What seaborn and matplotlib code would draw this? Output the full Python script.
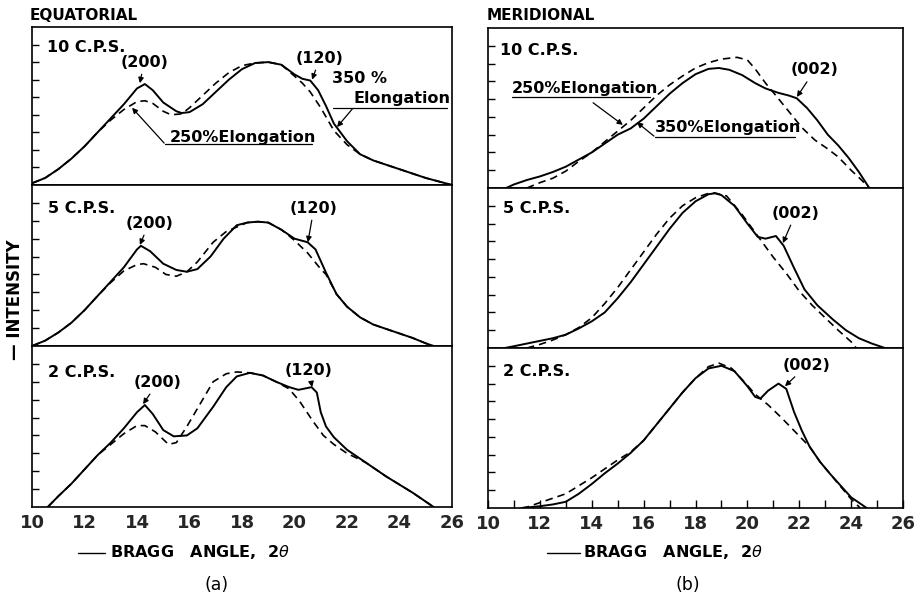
import matplotlib
matplotlib.use("Agg")
import matplotlib.pyplot as plt
from matplotlib.lines import Line2D
import seaborn as sns

sns.set_theme(style="white")
plt.rcParams['font.family'] = ['DejaVu Sans']

# ---------------- data ----------------
# Equatorial, 10 c.p.s.
eq10_x_350 = [10, 10.5, 11, 11.5, 12, 12.5, 13, 13.5, 14, 14.3, 14.6, 15, 15.5, 15.7, 16, 16.5, 17, 17.5, 18,
              18.5, 19, 19.5, 20, 20.3, 20.6, 20.9, 21.2, 21.5, 22, 22.5, 23, 23.5, 24, 24.5, 25, 25.5, 26]
eq10_y_350 = [0.1, 0.4, 0.9, 1.5, 2.2, 3.0, 3.8, 4.6, 5.5, 5.75, 5.4, 4.7, 4.2, 4.1, 4.15, 4.6, 5.3, 6.0, 6.6,
              6.95, 7.0, 6.85, 6.3, 6.05, 5.95, 5.4, 4.5, 3.5, 2.5, 1.75, 1.4, 1.15, 0.9, 0.65, 0.4, 0.2, 0.0]
eq10_x_250 = [10, 10.5, 11, 11.5, 12, 12.5, 13, 13.5, 14, 14.3, 14.6, 15, 15.3, 15.7, 16, 16.5, 17, 17.5, 18,
              18.5, 19, 19.5, 20, 20.3, 20.6, 21, 21.5, 22, 22.5, 23, 23.5, 24, 24.5, 25, 25.5, 26]
eq10_y_250 = [0.1, 0.4, 0.9, 1.5, 2.2, 3.0, 3.7, 4.3, 4.75, 4.8, 4.65, 4.2, 4.0, 4.05, 4.4, 5.1, 5.8, 6.4, 6.8,
              6.95, 7.0, 6.85, 6.2, 5.8, 5.3, 4.4, 3.1, 2.3, 1.75, 1.4, 1.15, 0.9, 0.65, 0.4, 0.2, 0.0]

# Equatorial, 5 c.p.s.
eq5_x_350 = [10, 10.5, 11, 11.5, 12, 12.5, 13, 13.5, 14, 14.15, 14.5, 15, 15.5, 15.9, 16.3, 16.8, 17.3, 17.8,
             18.2, 18.6, 19, 19.5, 20, 20.5, 20.8, 21.2, 21.6, 22, 22.5, 23, 23.5, 24, 24.5, 25, 25.3]
eq5_y_350 = [0.0, 0.3, 0.75, 1.3, 2.0, 2.8, 3.6, 4.4, 5.4, 5.6, 5.3, 4.6, 4.25, 4.15, 4.3, 5.0, 6.0, 6.75,
             6.9, 6.95, 6.9, 6.5, 6.0, 5.8, 5.4, 4.1, 2.9, 2.2, 1.6, 1.2, 0.95, 0.7, 0.45, 0.15, 0.0]
eq5_x_250 = [10, 10.5, 11, 11.5, 12, 12.5, 13, 13.5, 14, 14.25, 14.7, 15.1, 15.5, 15.9, 16.3, 16.9, 17.4, 17.8,
             18.2, 18.6, 19, 19.5, 19.8, 20, 20.5, 21, 21.2, 21.6, 22, 22.5, 23, 23.5, 24, 24.5, 25, 25.3]
eq5_y_250 = [0.0, 0.3, 0.75, 1.3, 2.0, 2.8, 3.55, 4.2, 4.55, 4.6, 4.4, 4.0, 3.9, 4.15, 4.7, 5.8, 6.4, 6.65,
             6.9, 6.95, 6.9, 6.5, 6.15, 5.9, 5.2, 4.3, 4.0, 2.9, 2.2, 1.6, 1.2, 0.95, 0.7, 0.45, 0.15, 0.0]

# Equatorial, 2 c.p.s.
eq2_x_350 = [10.6, 11, 11.5, 12, 12.5, 13, 13.5, 14, 14.3, 14.6, 15, 15.4, 15.9, 16.3, 16.9, 17.4, 17.8, 18.3,
             18.8, 19.3, 19.8, 20.15, 20.65, 20.85, 21.0, 21.2, 21.5, 22, 22.7, 23.5, 24, 24.5, 25, 25.3]
eq2_y_350 = [0.0, 0.6, 1.3, 2.1, 2.9, 3.6, 4.4, 5.3, 5.7, 5.2, 4.3, 3.95, 4.0, 4.4, 5.6, 6.7, 7.3, 7.5,
             7.35, 7.0, 6.7, 6.55, 6.7, 6.4, 5.3, 4.5, 3.9, 3.2, 2.5, 1.7, 1.25, 0.8, 0.3, 0.0]
eq2_x_250 = [10.6, 11, 11.5, 12, 12.5, 13, 13.5, 14, 14.3, 14.7, 15.2, 15.5, 15.9, 16.3, 16.9, 17.4, 17.8, 18.3,
             18.8, 19.3, 19.8, 20.2, 20.7, 21.1, 21.5, 22, 22.7, 23.5, 24, 24.5, 25, 25.3]
eq2_y_250 = [0.0, 0.6, 1.3, 2.1, 2.9, 3.5, 4.1, 4.55, 4.55, 4.2, 3.5, 3.6, 4.5, 5.5, 7.0, 7.45, 7.55, 7.5,
             7.35, 7.0, 6.6, 5.9, 4.8, 4.0, 3.5, 3.0, 2.5, 1.7, 1.25, 0.8, 0.3, 0.0]

# Meridional, 10 c.p.s.
me10_x_350 = [10.7, 11, 11.5, 12, 12.5, 13, 13.5, 14, 14.5, 15, 15.5, 16, 16.5, 17, 17.5, 18, 18.5, 18.9,
              19.3, 19.8, 20.3, 20.7, 21.2, 21.6, 21.9, 22.3, 22.7, 23.1, 23.5, 23.9, 24.3, 24.7]
me10_y_350 = [0.0, 0.2, 0.45, 0.65, 0.9, 1.2, 1.6, 2.0, 2.5, 3.0, 3.35, 3.9, 4.6, 5.3, 5.9, 6.4, 6.7, 6.75,
              6.65, 6.35, 5.9, 5.6, 5.35, 5.2, 5.05, 4.5, 3.8, 3.0, 2.4, 1.7, 0.9, 0.0]
me10_x_250 = [11.5, 12, 12.5, 13, 13.5, 14, 14.5, 15, 15.5, 16, 16.5, 17, 17.5, 18, 18.5, 19, 19.6, 20.0,
              20.3, 20.7, 21.1, 21.6, 22.1, 22.6, 23.1, 23.5, 24.0, 24.4, 24.7]
me10_y_250 = [0.0, 0.3, 0.55, 0.95, 1.5, 2.0, 2.6, 3.2, 3.8, 4.5, 5.2, 5.8, 6.3, 6.75, 7.05, 7.25, 7.35, 7.2,
              6.7, 5.9, 5.2, 4.3, 3.4, 2.7, 2.2, 1.75, 1.0, 0.45, 0.0]

# Meridional, 5 c.p.s.
me5_x_350 = [10.65, 11, 11.5, 12, 12.5, 13, 13.5, 14, 14.5, 15, 15.5, 16, 16.5, 17, 17.5, 18, 18.5, 18.75,
             19, 19.5, 20, 20.4, 20.7, 21.1, 21.4, 21.8, 22.2, 22.7, 23.3, 23.8, 24.3, 24.8, 25.3]
me5_y_350 = [0.0, 0.1, 0.25, 0.4, 0.55, 0.75, 1.1, 1.5, 2.0, 2.8, 3.7, 4.7, 5.7, 6.7, 7.6, 8.25, 8.65, 8.7,
             8.6, 8.0, 7.0, 6.25, 6.15, 6.3, 5.75, 4.5, 3.3, 2.4, 1.6, 1.0, 0.55, 0.25, 0.0]
me5_x_250 = [11.5, 12, 12.5, 13, 13.5, 14, 14.5, 15, 15.5, 16, 16.5, 17, 17.5, 18, 18.5, 18.75, 19.2, 19.8,
             20.4, 21, 21.5, 22, 22.5, 23, 23.5, 24, 24.2]
me5_y_250 = [0.0, 0.2, 0.45, 0.75, 1.15, 1.7, 2.5, 3.4, 4.4, 5.4, 6.4, 7.3, 8.0, 8.45, 8.7, 8.72, 8.55, 7.5,
             6.3, 5.1, 4.2, 3.2, 2.4, 1.7, 1.0, 0.35, 0.0]

# Meridional, 2 c.p.s.
me2_x_350 = [11.3, 12, 12.5, 13, 13.5, 14, 14.5, 15, 15.5, 16, 16.5, 17, 17.5, 18, 18.5, 19, 19.5, 20,
             20.3, 20.5, 20.8, 21.2, 21.5, 21.8, 22.1, 22.4, 22.8, 23.2, 23.6, 24, 24.3, 24.6]
me2_y_350 = [0.0, 0.1, 0.2, 0.35, 0.8, 1.35, 1.95, 2.5, 3.1, 3.8, 4.7, 5.6, 6.5, 7.3, 7.85, 8.0, 7.7, 6.85,
             6.25, 6.15, 6.6, 7.0, 6.7, 5.4, 4.35, 3.45, 2.6, 1.9, 1.25, 0.6, 0.3, 0.0]
me2_x_250 = [11.3, 11.5, 12, 12.5, 13, 13.5, 14, 14.5, 15, 15.5, 16, 16.5, 17, 17.5, 18, 18.5, 18.9, 19.4,
             20, 20.3, 20.8, 21.3, 21.8, 22.4, 22.8, 23.2, 23.6, 24, 24.35]
me2_y_250 = [0.0, 0.05, 0.3, 0.55, 0.8, 1.25, 1.7, 2.2, 2.7, 3.15, 3.8, 4.7, 5.6, 6.5, 7.3, 7.95, 8.15, 7.85,
             6.9, 6.4, 5.8, 5.1, 4.35, 3.45, 2.6, 1.9, 1.2, 0.5, 0.0]

x_tick_labels = ["10", "12", "14", "16", "18", "20", "22", "24", "26"]
panel_labels = ["10 C.P.S.", "5 C.P.S.", "2 C.P.S."]

# ---------------- figure ----------------
W, H = 916, 599
fig = plt.figure(figsize=(W / 100, H / 100), dpi=100)
fig.patch.set_facecolor("white")

FONT = dict(family="DejaVu Sans", weight="bold", color="black")


def px_axes(left, right, top, bottom):
    return fig.add_axes([left / W, 1 - bottom / H, (right - left) / W, (bottom - top) / H])


left_bounds = [(27, 185), (185, 346), (346, 507)]
right_bounds = [(28, 188), (188, 348), (348, 508)]

eq_data = [(eq10_x_350, eq10_y_350, eq10_x_250, eq10_y_250),
           (eq5_x_350, eq5_y_350, eq5_x_250, eq5_y_250),
           (eq2_x_350, eq2_y_350, eq2_x_250, eq2_y_250)]
me_data = [(me10_x_350, me10_y_350, me10_x_250, me10_y_250),
           (me5_x_350, me5_y_350, me5_x_250, me5_y_250),
           (me2_x_350, me2_y_350, me2_x_250, me2_y_250)]

axes_l, axes_r = [], []
for col, (bounds, data, xl, xr) in enumerate([(left_bounds, eq_data, 32, 452),
                                              (right_bounds, me_data, 488, 903)]):
    for i, ((t, b), (xs, ys, xd, yd)) in enumerate(zip(bounds, data)):
        ax = px_axes(xl, xr, t, b)
        sns.lineplot(x=xs, y=ys, ax=ax, color="black", linewidth=1.4, sort=False)
        sns.lineplot(x=xd, y=yd, ax=ax, color="black", linewidth=1.2, sort=False,
                     linestyle=(0, (4.5, 3)))
        ax.set_xlim(10, 26)
        ax.set_ylim(0, 9)
        ax.set_facecolor("white")
        for s in ax.spines.values():
            s.set_color("black")
            s.set_linewidth(1.2)
        ax.set_yticks(range(1, 9))
        ax.set_yticklabels([])
        ax.tick_params(axis="y", direction="in", length=5, width=1, color="black", left=True)
        ax.set_xticks(range(10, 27, 2))
        if i == 2:
            ax.set_xticklabels(x_tick_labels, fontsize=13, fontweight="bold")
            if col == 1:
                ax.set_xticks(range(11, 26), minor=True)
                ax.tick_params(axis="x", which="both", direction="in", length=6, width=1,
                               color="black", bottom=True, pad=5)
            else:
                ax.tick_params(axis="x", direction="in", length=0, pad=5)
        else:
            ax.set_xticklabels([])
            ax.tick_params(axis="x", length=0)
        ax.set_xlabel("")
        ax.set_ylabel("")
        ax.text(0.0375 if col == 0 else 0.03, 0, panel_labels[i], **FONT, fontsize=11.5,
                transform=ax.transAxes, alpha=0)  # placeholder (invisible)
        (axes_l if col == 0 else axes_r).append(ax)

arrow = dict(arrowstyle="-|>", color="black", lw=0.9, mutation_scale=8, shrinkA=1, shrinkB=0)
plain = dict(arrowstyle="-", color="black", lw=0.9, shrinkA=0, shrinkB=0)
tk = dict(fontsize=11.5, **FONT)

# ---- Equatorial annotations ----
a0, a1, a2 = axes_l
a0.text(10.57, 7.86, panel_labels[0], ha="left", va="center", **tk)
a0.annotate("(200)", xy=(14.11, 5.8), xytext=(14.27, 7.0), ha="center", va="center", arrowprops=arrow, **tk)
a0.annotate("(120)", xy=(20.67, 6.0), xytext=(20.97, 7.23), ha="center", va="center", arrowprops=arrow, **tk)
a0.text(21.43, 6.04, "350 %", ha="left", va="center", **tk)
a0.text(22.23, 4.95, "Elongation", ha="left", va="center", **tk)
a0.plot([21.47, 25.81], [4.38, 4.38], color="black", lw=0.9)
a0.annotate("", xy=(21.62, 3.3), xytext=(22.23, 4.38), arrowprops=arrow)
a0.text(15.26, 2.73, "250%Elongation", ha="left", va="center", **tk)
a0.plot([15.07, 20.67], [2.33, 2.33], color="black", lw=0.9)
a0.annotate("", xy=(13.81, 4.4), xytext=(15.07, 2.33), arrowprops=arrow)

a1.text(10.61, 7.71, panel_labels[1], ha="left", va="center", **tk)
a1.annotate("(200)", xy=(14.11, 5.65), xytext=(14.46, 6.87), ha="center", va="center", arrowprops=arrow, **tk)
a1.annotate("(120)", xy=(20.51, 5.8), xytext=(20.74, 7.71), ha="center", va="center", arrowprops=arrow, **tk)

a2.text(10.61, 7.54, panel_labels[2], ha="left", va="center", **tk)
a2.annotate("(200)", xy=(14.23, 5.75), xytext=(14.8, 6.98), ha="center", va="center", arrowprops=arrow, **tk)
a2.annotate("(120)", xy=(20.67, 6.7), xytext=(20.55, 7.65), ha="center", va="center", arrowprops=arrow, **tk)

# ---- Meridional annotations ----
b0, b1, b2 = axes_r
b0.text(10.46, 7.76, panel_labels[0], ha="left", va="center", **tk)
b0.annotate("(002)", xy=(21.91, 5.12), xytext=(22.6, 6.64), ha="center", va="center", arrowprops=arrow, **tk)
b0.text(10.93, 5.62, "250%Elongation", ha="left", va="center", **tk)
b0.plot([10.93, 16.25], [5.12, 5.12], color="black", lw=0.9)
b0.annotate("", xy=(15.2, 3.55), xytext=(14.01, 4.84), arrowprops=arrow)
b0.text(16.44, 3.43, "350%Elongation", ha="left", va="center", **tk)
b0.plot([16.44, 21.83], [2.87, 2.87], color="black", lw=0.9)
b0.annotate("", xy=(15.74, 3.7), xytext=(16.44, 2.87), arrowprops=arrow)

b1.text(10.58, 7.87, panel_labels[1], ha="left", va="center", **tk)
b1.annotate("(002)", xy=(21.37, 5.9), xytext=(21.87, 7.59), ha="center", va="center", arrowprops=arrow, **tk)

b2.text(10.58, 7.65, panel_labels[2], ha="left", va="center", **tk)
b2.annotate("(002)", xy=(21.45, 6.85), xytext=(22.3, 8.04), ha="center", va="center", arrowprops=arrow, **tk)

# ---- figure-level text ----
fig.text(30 / W, 1 - 15 / H, "EQUATORIAL", ha="left", va="center", fontsize=11, **FONT)
fig.text(487 / W, 1 - 15 / H, "MERIDIONAL", ha="left", va="center", fontsize=11, **FONT)
fig.text(15 / W, 1 - 300 / H, "— INTENSITY", rotation=90, ha="center", va="center", fontsize=12, **FONT)

for x0, x1, xt in [(78, 105, 110), (547, 580, 583)]:
    fig.add_artist(Line2D([x0 / W, x1 / W], [1 - 553 / H, 1 - 553 / H], color="black", lw=1.0))
    fig.text(xt / W, 1 - 552 / H, "BRAGG   ANGLE,  2$\\theta$", ha="left", va="center", fontsize=11.5, **FONT)

fig.text(217 / W, 1 - 585 / H, "(a)", ha="center", va="center", fontsize=12.5, family="DejaVu Sans", color="black")
fig.text(688 / W, 1 - 585 / H, "(b)", ha="center", va="center", fontsize=12.5, family="DejaVu Sans", color="black")

fig.savefig("out.png", dpi=100, facecolor="white")
